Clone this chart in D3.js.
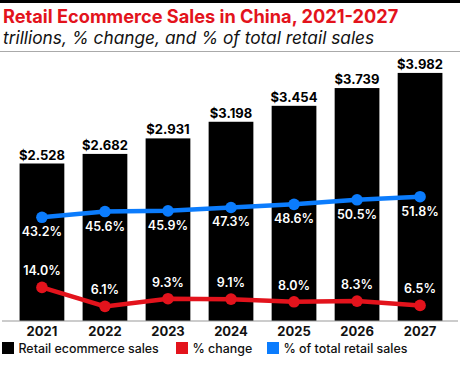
<!DOCTYPE html>
<html>
<head>
<meta charset="utf-8">
<script src="https://cdn.jsdelivr.net/npm/d3@7"></script>
<style>
  body { margin: 0; background: #fff; }
  svg { display: block; font-family: Inter, "Noto Sans", sans-serif; }
</style>
</head>
<body>
<svg id="chart" width="460" height="371"></svg>
<script>
// chart data
const years = ["2021", "2022", "2023", "2024", "2025", "2026", "2027"];
const sales = [2.528, 2.682, 2.931, 3.198, 3.454, 3.739, 3.982];
const pctChange = [14.0, 6.1, 9.3, 9.1, 8.0, 8.3, 6.5];
const pctTotal = [43.2, 45.6, 45.9, 47.3, 48.6, 50.5, 51.8];
const legendItems = ["Retail ecommerce sales", "% change", "% of total retail sales"];

const RED = "#e3131c", BLUE = "#0b7cfd";

const svg = d3.select("#chart");

// header rules + titles
svg.append("rect").attr("x", 0).attr("y", 0).attr("width", 460).attr("height", 3).attr("fill", "#000");
svg.append("text").attr("x", 3).attr("y", 23)
  .attr("fill", RED).attr("font-size", 18.2).attr("font-weight", 700)
  .text("Retail Ecommerce Sales in China, 2021-2027");
svg.append("text").attr("x", 3).attr("y", 44)
  .attr("fill", "#111").attr("font-size", 17.3).attr("font-style", "italic")
  .text("trillions, % change, and % of total retail sales");
svg.append("rect").attr("x", 0).attr("y", 51).attr("width", 460).attr("height", 1).attr("fill", "#aaa");

// scales
const x = d3.scaleBand().domain(years).range([9.5, 452.5]).paddingInner(0.29).paddingOuter(0.16);
const y = d3.scaleLinear().domain([0, 4]).range([321, 71.8]);
const yp = d3.scaleLinear().domain([0, 100]).range([321, 81]);

// bars
svg.append("g").selectAll("rect").data(sales).join("rect")
  .attr("x", (d, i) => x(years[i]))
  .attr("y", d => y(d))
  .attr("width", x.bandwidth())
  .attr("height", d => y(0) - y(d))
  .attr("fill", "#000");

svg.append("g").selectAll("text").data(sales).join("text")
  .attr("x", (d, i) => x(years[i]) + x.bandwidth() / 2)
  .attr("y", d => y(d) - 4)
  .attr("text-anchor", "middle").attr("font-size", 13).attr("font-weight", 700)
  .text(d => "$" + d.toFixed(3));

// baseline
svg.append("line").attr("x1", 2).attr("x2", 458).attr("y1", 321).attr("y2", 321)
  .attr("stroke", "#999").attr("stroke-width", 1.2);

// x axis
const xAxis = d3.axisBottom(x).tickSize(0).tickPadding(6);
const gx = svg.append("g").attr("transform", "translate(0,321)").call(xAxis);
gx.select(".domain").remove();
gx.selectAll("text").attr("font-size", 13).attr("font-weight", 700).attr("fill", "#111")
  .attr("font-family", "Inter, sans-serif");

function series(vals, color, labelDy) {
  const cx = (d, i) => x(years[i]) + x.bandwidth() / 2;
  const line = d3.line().x(cx).y(d => yp(d));
  svg.append("path").datum(vals).attr("d", line)
    .attr("fill", "none").attr("stroke", color).attr("stroke-width", 4.5);
  svg.append("g").selectAll("circle").data(vals).join("circle")
    .attr("cx", cx).attr("cy", d => yp(d)).attr("r", 5.8).attr("fill", color);
  svg.append("g").selectAll("text").data(vals).join("text")
    .attr("x", cx).attr("y", d => yp(d) + labelDy)
    .attr("text-anchor", "middle").attr("font-size", 12.5).attr("font-weight", 600)
    .attr("fill", "#fff")
    .text(d => d.toFixed(1) + "%");
}
series(pctChange, RED, -12);
series(pctTotal, BLUE, 19);

// legend
const legendX = [2, 176, 267];
const legendColors = ["#000", RED, BLUE];
const lg = svg.append("g").selectAll("g").data(legendItems).join("g")
  .attr("transform", (d, i) => `translate(${legendX[i]},342)`);
lg.append("rect").attr("width", 12).attr("height", 12).attr("fill", (d, i) => legendColors[i]);
lg.append("text").attr("x", 16.5).attr("y", 10.5).attr("font-size", 12.4).attr("font-weight", 500)
  .attr("fill", "#111").text(d => d);
</script>
</body>
</html>
